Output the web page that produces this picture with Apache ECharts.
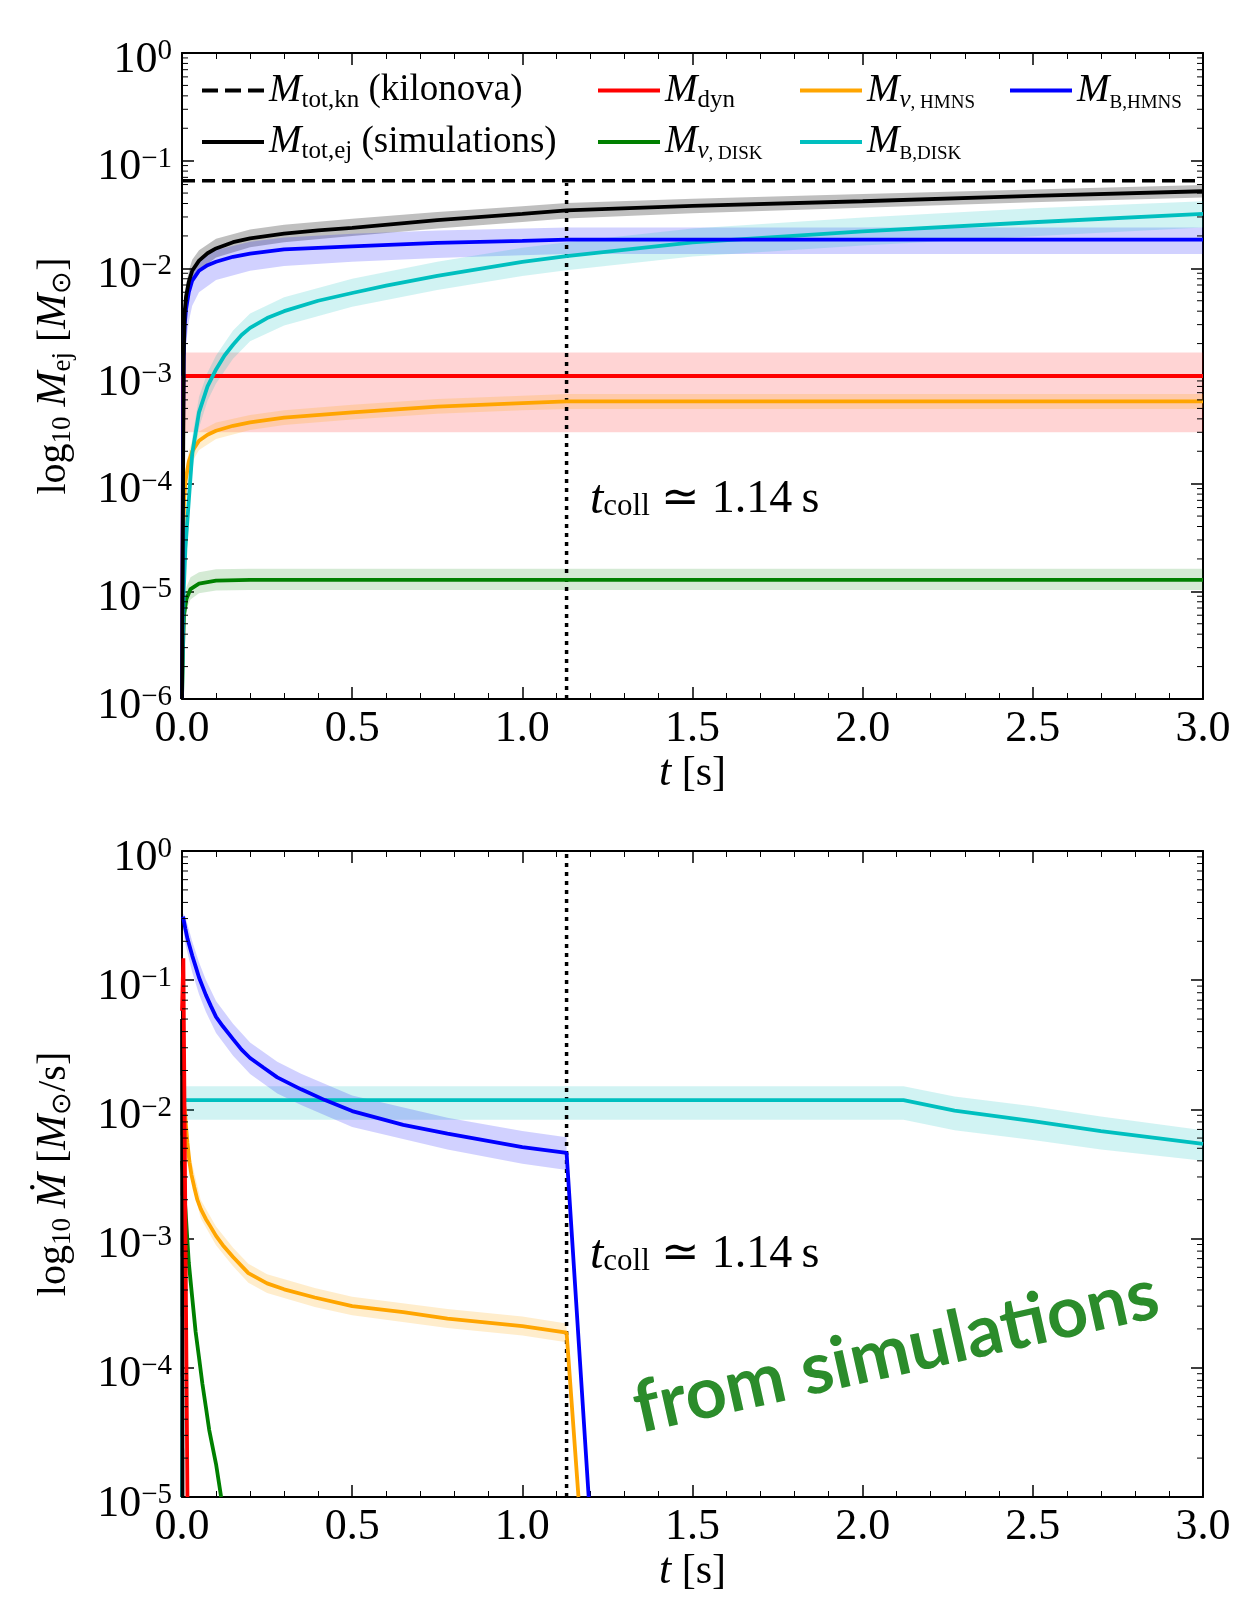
<!DOCTYPE html>
<html>
<head>
<meta charset="utf-8">
<script src="https://cdn.jsdelivr.net/npm/echarts@6/dist/echarts.min.js"></script>
<style>
  html, body { margin: 0; padding: 0; background: #fff; }
  #chart { width: 1254px; height: 1623px; }
</style>
</head>
<body>
<div id="chart"></div>
<script>
const SERIF = 'Liberation Serif';
const tColl = 1.13;

// upper panel: cumulative ejecta mass, [t (s), M (Msun)]
const mTotKn = [[0, 0.065], [3, 0.065]];
const mTotEj = [[0, 1e-6], [0.003, 1e-4], [0.005, 1.5e-3], [0.008, 4e-3], [0.012, 5.5e-3], [0.02, 7.5e-3], [0.03, 9.5e-3], [0.05, 0.0118], [0.075, 0.0138], [0.1, 0.0153], [0.15, 0.0175], [0.2, 0.019], [0.3, 0.021], [0.4, 0.0225], [0.5, 0.0238], [0.75, 0.028], [1.0, 0.032], [1.13, 0.0345], [1.5, 0.038], [2.0, 0.042], [2.5, 0.047], [3.0, 0.052]];
const mDyn = [[0, 1e-6], [0.004, 1e-3], [3.0, 1e-3]];
const mNuHmns = [[0, 1e-6], [0.003, 2e-5], [0.006, 7e-5], [0.01, 1.05e-4], [0.02, 1.6e-4], [0.03, 2e-4], [0.05, 2.5e-4], [0.075, 2.85e-4], [0.1, 3.1e-4], [0.15, 3.45e-4], [0.2, 3.7e-4], [0.3, 4.1e-4], [0.5, 4.6e-4], [0.75, 5.2e-4], [1.0, 5.6e-4], [1.13, 5.8e-4], [3.0, 5.8e-4]];
const mBHmns = [[0, 1e-6], [0.003, 3e-4], [0.005, 1.5e-3], [0.008, 3e-3], [0.012, 4.2e-3], [0.02, 6e-3], [0.03, 7.7e-3], [0.05, 9.5e-3], [0.075, 0.0107], [0.1, 0.0115], [0.15, 0.0128], [0.2, 0.0137], [0.3, 0.015], [0.5, 0.016], [0.75, 0.0172], [1.0, 0.018], [1.13, 0.0185], [3.0, 0.0185]];
const mNuDisk = [[0, 1e-6], [0.003, 3e-6], [0.006, 6e-6], [0.013, 8.5e-6], [0.025, 1.05e-5], [0.05, 1.18e-5], [0.1, 1.26e-5], [0.2, 1.28e-5], [3.0, 1.28e-5]];
const mBDisk = [[0, 1e-6], [0.005, 1e-5], [0.01, 2.5e-5], [0.02, 7e-5], [0.03, 1.9e-4], [0.05, 4.6e-4], [0.075, 8e-4], [0.1, 1.15e-3], [0.125, 1.55e-3], [0.15, 1.95e-3], [0.175, 2.4e-3], [0.2, 2.8e-3], [0.25, 3.45e-3], [0.3, 4.0e-3], [0.4, 5.0e-3], [0.5, 5.9e-3], [0.6, 6.9e-3], [0.75, 8.5e-3], [1.0, 0.0115], [1.13, 0.013], [1.5, 0.0174], [2.0, 0.022], [2.5, 0.0268], [3.0, 0.032]];

// uncertainty bands, [t, lower, upper]
const mTotEjBand = [[0.003, 1e-5, 3e-4], [0.005, 8e-4, 2.5e-3], [0.008, 3e-3, 5.5e-3], [0.012, 4.3e-3, 7e-3], [0.02, 6e-3, 9.5e-3], [0.03, 7.7e-3, 0.012], [0.05, 9.6e-3, 0.0147], [0.1, 0.0126, 0.0188], [0.2, 0.0157, 0.023], [0.3, 0.0175, 0.0254], [0.5, 0.02, 0.0288], [0.75, 0.0235, 0.0333], [1.0, 0.027, 0.0378], [1.13, 0.029, 0.0405], [1.5, 0.0325, 0.0443], [2.0, 0.0365, 0.049], [2.5, 0.041, 0.054], [3.0, 0.0455, 0.0595]];
const mDynBand = [[0.004, 3e-4, 1.65e-3], [3.0, 3e-4, 1.65e-3]];
const mNuHmnsBand = [[0.006, 5e-5, 9e-5], [0.01, 8e-5, 1.35e-4], [0.02, 1.25e-4, 2e-4], [0.03, 1.6e-4, 2.5e-4], [0.05, 2.05e-4, 3.05e-4], [0.1, 2.6e-4, 3.7e-4], [0.2, 3.15e-4, 4.35e-4], [0.3, 3.5e-4, 4.8e-4], [0.5, 3.95e-4, 5.4e-4], [0.75, 4.45e-4, 6.1e-4], [1.0, 4.8e-4, 6.55e-4], [1.13, 4.95e-4, 6.8e-4], [3.0, 4.95e-4, 6.8e-4]];
const mBHmnsBand = [[0.003, 3e-5, 6e-4], [0.005, 5e-4, 2.5e-3], [0.008, 1.2e-3, 4.5e-3], [0.012, 2e-3, 5.8e-3], [0.02, 3.2e-3, 8e-3], [0.03, 4.5e-3, 0.01], [0.05, 6e-3, 0.0122], [0.1, 7.8e-3, 0.0148], [0.2, 9.5e-3, 0.0177], [0.3, 0.0105, 0.0193], [0.5, 0.0115, 0.021], [0.75, 0.0125, 0.0225], [1.0, 0.0132, 0.0235], [1.13, 0.0136, 0.024], [3.0, 0.0136, 0.024]];
const mNuDiskBand = [[0.003, 2e-6, 4.5e-6], [0.006, 4.5e-6, 8.5e-6], [0.013, 6.8e-6, 1.1e-5], [0.025, 8.4e-6, 1.35e-5], [0.05, 9.6e-6, 1.5e-5], [0.1, 1.02e-5, 1.6e-5], [0.2, 1.03e-5, 1.62e-5], [3.0, 1.03e-5, 1.62e-5]];
const mBDiskBand = [[0.01, 1.5e-5, 4e-5], [0.02, 4.5e-5, 1.1e-4], [0.03, 1.3e-4, 2.7e-4], [0.05, 3.3e-4, 6.4e-4], [0.075, 5.9e-4, 1.08e-3], [0.1, 8.5e-4, 1.55e-3], [0.15, 1.45e-3, 2.65e-3], [0.2, 2.1e-3, 3.8e-3], [0.3, 2.95e-3, 5.4e-3], [0.5, 4.4e-3, 8e-3], [0.75, 6.3e-3, 0.0115], [1.0, 8.5e-3, 0.0155], [1.13, 9.6e-3, 0.0175], [1.5, 0.0129, 0.0235], [2.0, 0.0163, 0.0297], [2.5, 0.0199, 0.0362], [3.0, 0.024, 0.042]];

// lower panel: mass ejection rates, [t (s), Mdot (Msun/s)]
const mdTot = [[0, 0.05], [0.0015, 1e-5]];
const mdDyn = [[0, 0.058], [0.004, 0.148], [0.016, 1e-5]];
const mdNuHmns = [[0.007, 0.0105], [0.01, 0.0085], [0.013, 0.0068], [0.016, 0.0055], [0.022, 0.0039], [0.028, 0.0031], [0.036, 0.0025], [0.045, 0.002], [0.055, 0.0017], [0.07, 0.00142], [0.082, 0.00126], [0.1, 0.00105], [0.12, 8.9e-4], [0.15, 7.2e-4], [0.195, 5.4e-4], [0.25, 4.5e-4], [0.3, 4.05e-4], [0.39, 3.5e-4], [0.5, 3e-4], [0.65, 2.7e-4], [0.78, 2.4e-4], [1.0, 2.1e-4], [1.13, 1.87e-4], [1.165, 1e-5]];
const mdBHmns = [[0.003, 0.31], [0.01, 0.25], [0.016, 0.21], [0.03, 0.155], [0.04, 0.128], [0.05, 0.105], [0.06, 0.09], [0.07, 0.077], [0.085, 0.063], [0.1, 0.052], [0.12, 0.044], [0.15, 0.035], [0.175, 0.029], [0.2, 0.025], [0.24, 0.021], [0.28, 0.0177], [0.35, 0.0143], [0.42, 0.0118], [0.5, 0.0097], [0.65, 0.0076], [0.78, 0.0065], [1.0, 0.0051], [1.13, 0.0046], [1.195, 1e-5]];
const mdNuDisk = [[0, 0.004], [0.01, 1.7e-3], [0.02, 6.5e-4], [0.03, 3.5e-4], [0.04, 1.9e-4], [0.05, 1.2e-4], [0.06, 7.5e-5], [0.07, 5e-5], [0.08, 3.3e-5], [0.1, 1.8e-5], [0.115, 1e-5]];
const mdBDisk = [[0, 1e-5], [0.003, 0.0118], [2.12, 0.0118], [2.27, 0.0098], [2.5, 0.0081], [2.7, 0.0068], [3.0, 0.0054]];

const mdNuHmnsBand = [[0.01, 0.0072, 0.01], [0.022, 0.0033, 0.0046], [0.055, 0.00144, 0.002], [0.1, 8.9e-4, 1.24e-3], [0.15, 6.1e-4, 8.5e-4], [0.195, 4.55e-4, 6.4e-4], [0.25, 3.8e-4, 5.3e-4], [0.39, 2.95e-4, 4.15e-4], [0.5, 2.55e-4, 3.55e-4], [0.78, 2.03e-4, 2.85e-4], [1.0, 1.78e-4, 2.5e-4], [1.13, 1.58e-4, 2.2e-4]];
const mdBHmnsBand = [[0.003, 0.25, 0.33], [0.01, 0.19, 0.31], [0.03, 0.115, 0.2], [0.05, 0.078, 0.138], [0.07, 0.057, 0.101], [0.1, 0.039, 0.069], [0.15, 0.026, 0.046], [0.2, 0.0188, 0.033], [0.28, 0.0133, 0.0234], [0.35, 0.0108, 0.0189], [0.5, 0.0073, 0.0128], [0.78, 0.0049, 0.0086], [1.0, 0.0038, 0.0068], [1.13, 0.0034, 0.0061]];
const mdBDiskBand = [[0.005, 0.0083, 0.0151], [2.12, 0.0083, 0.0151], [2.27, 0.0069, 0.0126], [2.5, 0.0058, 0.0106], [2.7, 0.0049, 0.0088], [3.0, 0.004, 0.0069]];

const collTop = [[tColl, 1e-6], [tColl, 0.062]];
const collBottom = [[tColl, 1e-5], [tColl, 1]];

const colors = {
  Mtotkn: '#000000', Mtotej: '#000000', Mdyn: '#ff0000', MnuH: '#ffa500',
  MBH: '#0000ff', MnuD: '#008000', MBD: '#00bfbf'
};
const bandColors = {
  Mtotej: 'rgba(0,0,0,0.25)', Mdyn: 'rgba(255,0,0,0.17)', MnuH: 'rgba(255,165,0,0.2)',
  MBH: 'rgba(0,0,255,0.18)', MnuD: 'rgba(0,128,0,0.17)', MBD: 'rgba(0,191,191,0.18)'
};
const legendText = {
  Mtotkn: '{i|M}{s|tot,kn}{r| (kilonova)}',
  Mtotej: '{i|M}{s|tot,ej}{r| (simulations)}',
  Mdyn: '{i|M}{s|dyn}',
  MnuH: '{i|M}{si|ν}{sc|, HMNS}',
  MBH: '{i|M}{sc|B,HMNS}',
  MnuD: '{i|M}{si|ν}{sc|, DISK}',
  MBD: '{i|M}{sc|B,DISK}'
};

function rich(size) {
  return {
    r: {fontFamily: SERIF, fontSize: size, lineHeight: 44, color: '#000'},
    i: {fontFamily: SERIF, fontSize: size + 2, lineHeight: 44, fontStyle: 'italic', color: '#000'},
    s: {fontFamily: SERIF, fontSize: Math.round(size * 0.68), lineHeight: 24, verticalAlign: 'bottom', color: '#000'},
    si: {fontFamily: SERIF, fontSize: Math.round(size * 0.68), lineHeight: 24, verticalAlign: 'bottom', fontStyle: 'italic', color: '#000'},
    sc: {fontFamily: SERIF, fontSize: Math.round(size * 0.52), lineHeight: 20, verticalAlign: 'bottom', color: '#000'}
  };
}

function line(name, data, xi, opts) {
  return Object.assign({
    type: 'line', name: name, xAxisIndex: xi, yAxisIndex: xi, data: data,
    showSymbol: false, symbol: 'none', animation: false, z: 3,
    color: colors[name],
    lineStyle: {color: colors[name], width: 3.8}
  }, opts || {});
}

function band(name, rows, xi) {
  return {
    type: 'custom', name: name + 'Band', xAxisIndex: xi, yAxisIndex: xi, z: 1, silent: true,
    data: [[rows[0][0], rows[0][1]]],
    renderItem: function (params, api) {
      const up = rows.map(d => api.coord([d[0], d[2]]));
      const lo = rows.map(d => api.coord([d[0], d[1]])).reverse();
      return {type: 'polygon', shape: {points: up.concat(lo)}, style: {fill: bandColors[name]}};
    }
  };
}

function minorTicks(lo, hi, xi) {
  const vals = [];
  for (let e = lo; e < hi; e++) {
    for (let k = 2; k <= 9; k++) vals.push([0, k * Math.pow(10, e)]);
  }
  return {
    type: 'custom', xAxisIndex: xi, yAxisIndex: xi, z: 5, silent: true, data: vals,
    renderItem: function (params, api) {
      const l = api.coord([0, api.value(1)]);
      const r = api.coord([3, api.value(1)]);
      return {type: 'group', children: [
        {type: 'line', shape: {x1: l[0], y1: l[1], x2: l[0] + 6, y2: l[1]}, style: {stroke: '#000', lineWidth: 1}},
        {type: 'line', shape: {x1: r[0], y1: r[1], x2: r[0] - 6, y2: r[1]}, style: {stroke: '#000', lineWidth: 1}}
      ]};
    }
  };
}

const axisLine = {show: true, onZero: false, lineStyle: {color: '#000', width: 2}};

function xAxis(gi, pos) {
  return {
    type: 'value', gridIndex: gi, position: pos, min: 0, max: 3, interval: 0.5,
    axisLine: axisLine,
    axisTick: {show: true, inside: true, length: 12, lineStyle: {color: '#000', width: 1.5}},
    minorTick: {show: true, splitNumber: 5, length: 6, lineStyle: {color: '#000', width: 1}},
    splitLine: {show: false},
    axisLabel: {
      show: pos === 'bottom', margin: 8, color: '#000', fontFamily: SERIF, fontSize: 44,
      formatter: v => v.toFixed(1)
    },
    name: pos === 'bottom' ? '{i|t}{r| [s]}' : '',
    nameLocation: 'middle', nameGap: 50,
    nameTextStyle: {rich: rich(42)}
  };
}

function yAxis(gi, pos, min, name) {
  return {
    type: 'log', logBase: 10, gridIndex: gi, position: pos, min: min, max: 1,
    splitNumber: Math.round(-Math.log10(min)),
    axisLine: axisLine,
    axisTick: {show: true, inside: true, length: 12, lineStyle: {color: '#000', width: 1.5}},
    splitLine: {show: false},
    axisLabel: {
      show: pos === 'left', margin: 10, padding: [14, 0, 0, 0],
      formatter: function (v) {
        const e = Math.round(Math.log10(v));
        return '{b|10}{p|' + (e === 0 ? '0' : '\u2212' + (-e)) + '}';
      },
      rich: {
        b: {fontFamily: SERIF, fontSize: 44, lineHeight: 46, color: '#000'},
        p: {fontFamily: SERIF, fontSize: 29, lineHeight: 28, verticalAlign: 'top', color: '#000'}
      }
    },
    name: pos === 'left' ? name : '',
    nameLocation: 'middle', nameGap: 106, nameRotate: 90,
    nameTextStyle: {rich: rich(40)}
  };
}

function legendCol(left, names) {
  return {
    orient: 'vertical', left: left, top: 66, itemGap: 10, itemWidth: 62, itemHeight: 4,
    selectedMode: false, icon: 'rect', itemStyle: {borderWidth: 0},
    data: names.map(n => n === 'Mtotkn'
      ? {name: n, icon: 'path://M0,0H16V4H0Z M23,0H39V4H23Z M46,0H62V4H46Z'}
      : {name: n}),
    formatter: n => legendText[n],
    textStyle: {rich: rich(37)}
  };
}

const collText = '{i|t}{s|coll}{r| \u2243 1.14\u2009s}';

const chart = echarts.init(document.getElementById('chart'));
chart.setOption({
  animation: false,
  backgroundColor: '#fff',
  grid: [
    {left: 182, top: 53, width: 1021, height: 646},
    {left: 182, top: 851, width: 1021, height: 646}
  ],
  xAxis: [xAxis(0, 'bottom'), xAxis(0, 'top'), xAxis(1, 'bottom'), xAxis(1, 'top')],
  yAxis: [
    yAxis(0, 'left', 1e-6, '{r|log}{s|10}{r| }{i|M}{s|ej}{r| [}{i|M}{s|\u2299}{r|]}'),
    yAxis(0, 'right', 1e-6, ''),
    yAxis(1, 'left', 1e-5, '{r|log}{s|10}{r| }{i|\u1E40}{r| [}{i|M}{s|\u2299}{r|/s]}'),
    yAxis(1, 'right', 1e-5, '')
  ],
  legend: [
    legendCol(197, ['Mtotkn', 'Mtotej']),
    legendCol(593, ['Mdyn', 'MnuD']),
    legendCol(795, ['MnuH', 'MBD']),
    legendCol(1005, ['MBH'])
  ],
  series: [
    band('Mdyn', mDynBand, 0),
    band('Mtotej', mTotEjBand, 0),
    band('MBH', mBHmnsBand, 0),
    band('MBD', mBDiskBand, 0),
    band('MnuH', mNuHmnsBand, 0),
    band('MnuD', mNuDiskBand, 0),
    line('Mtotkn', mTotKn, 0, {lineStyle: {color: '#000', width: 3.5, type: [13, 7]}}),
    line('coll0', collTop, 0, {color: '#000', lineStyle: {color: '#000', width: 3.5, type: [4, 5]}}),
    line('Mdyn', mDyn, 0),
    line('MnuH', mNuHmns, 0),
    line('MnuD', mNuDisk, 0),
    line('MBD', mBDisk, 0),
    line('MBH', mBHmns, 0),
    line('Mtotej', mTotEj, 0),
    minorTicks(-6, 0, 0),

    band('MBD', mdBDiskBand, 2),
    band('MBH', mdBHmnsBand, 2),
    band('MnuH', mdNuHmnsBand, 2),
    line('coll1', collBottom, 2, {color: '#000', lineStyle: {color: '#000', width: 3.5, type: [4, 5]}}),
    line('MBD', mdBDisk, 2),
    line('MnuD', mdNuDisk, 2),
    line('MnuH', mdNuHmns, 2),
    line('MBH', mdBHmns, 2),
    line('Mtotej', mdTot, 2),
    line('Mdyn', mdDyn, 2),
    minorTicks(-5, 0, 2)
  ],
  graphic: [
    {type: 'text', x: 590, y: 500, style: {text: collText, rich: rich(46), verticalAlign: 'middle'}},
    {type: 'text', x: 590, y: 1255, style: {text: collText, rich: rich(46), verticalAlign: 'middle'}},
    {type: 'text', x: 896, y: 1352, rotation: 0.22,
      style: {text: 'from simulations', fill: '#2b8c2b', font: 'bold 72px Lato', align: 'center', verticalAlign: 'middle'}}
  ]
});
</script>
</body>
</html>
